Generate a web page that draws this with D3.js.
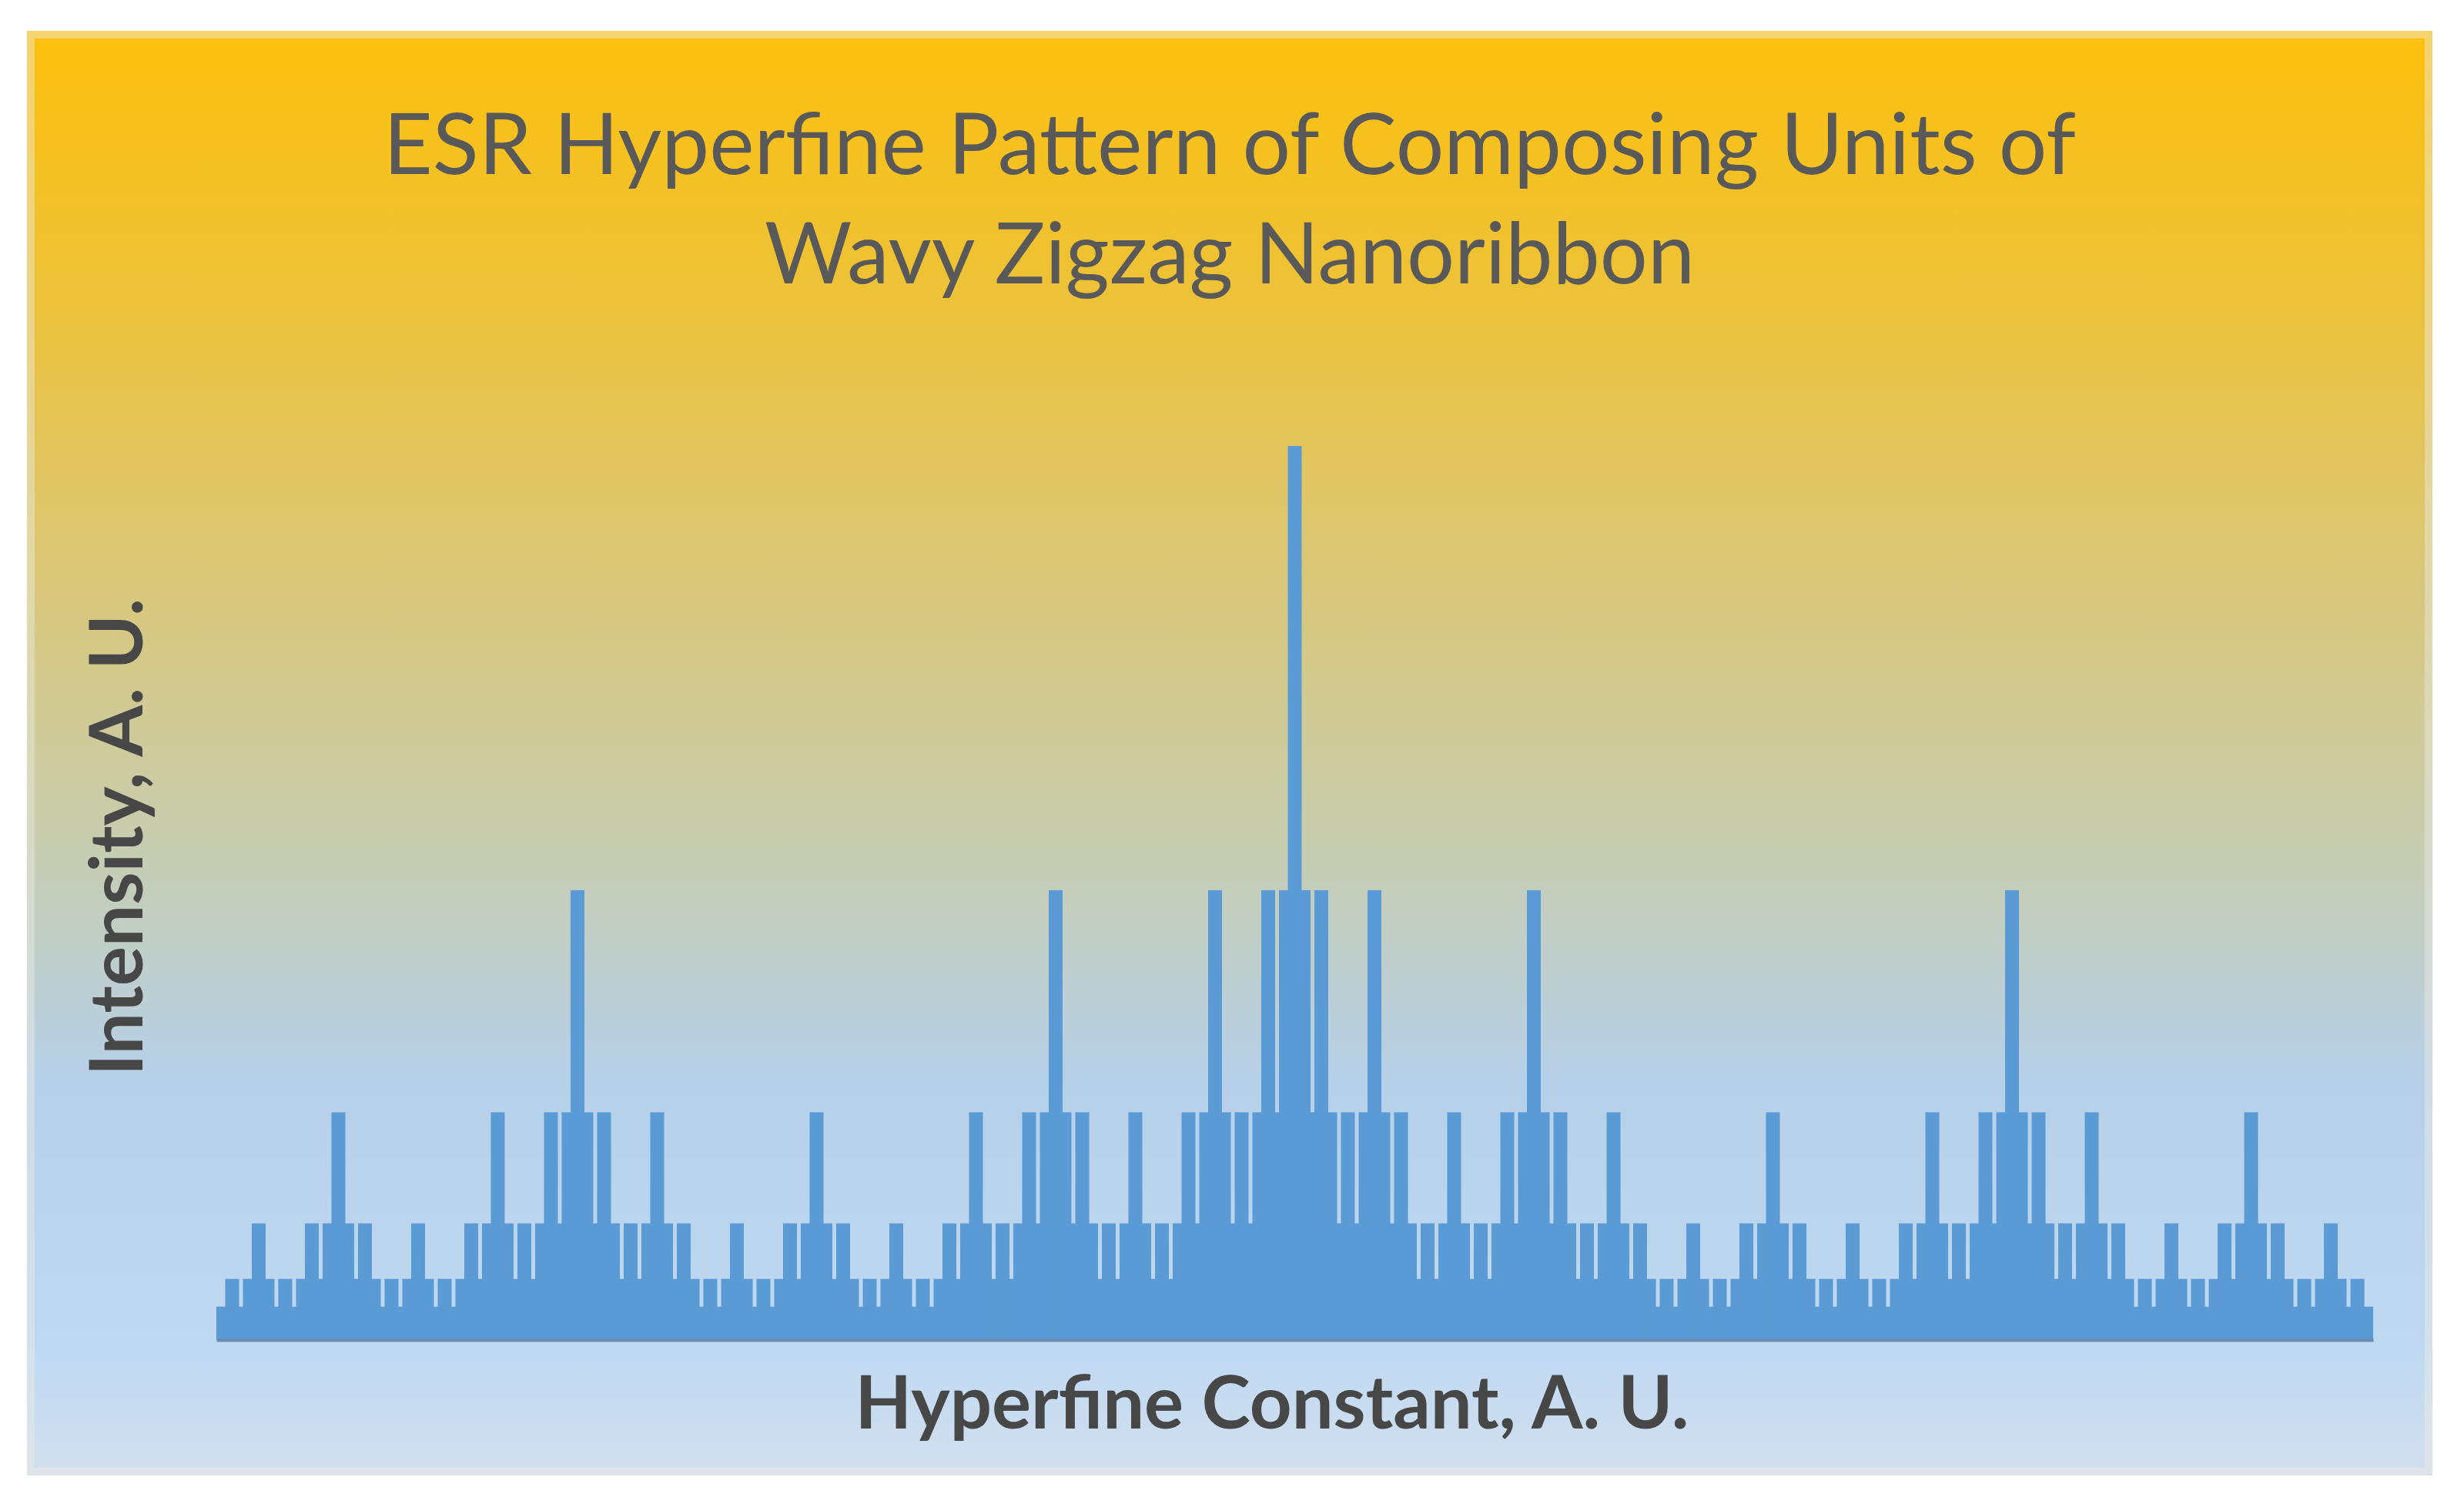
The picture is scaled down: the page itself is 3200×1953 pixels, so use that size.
<!DOCTYPE html>
<html>
<head>
<meta charset="utf-8">
<script src="https://cdn.jsdelivr.net/npm/d3@7"></script>
<style>
body{margin:0;background:#fff}
</style>
</head>
<body>
<div id="chart"></div>
<script>
var titleLines=["ESR Hyperfine Pattern of Composing Units of", "Wavy Zigzag Nanoribbon"]
var xTitle="Hyperfine Constant, A. U."
var yTitle="Intensity, A. U."

// intensity of each hyperfine line, left to right (243 lines)
var intensity=[
    1,2,1,2,4,2,1,2,1, 2,4,2,4,8,4,2,4,2, 1,2,1,2,4,2,1,2,1,
    2,4,2,4,8,4,2,4,2, 4,8,4,8,16,8,4,8,4, 2,4,2,4,8,4,2,4,2,
    1,2,1,2,4,2,1,2,1, 2,4,2,4,8,4,2,4,2, 1,2,1,2,4,2,1,2,1,
    2,4,2,4,8,4,2,4,2, 4,8,4,8,16,8,4,8,4, 2,4,2,4,8,4,2,4,2,
    4,8,4,8,16,8,4,8,4, 8,16,8,16,32,16,8,16,8, 4,8,4,8,16,8,4,8,4,
    2,4,2,4,8,4,2,4,2, 4,8,4,8,16,8,4,8,4, 2,4,2,4,8,4,2,4,2,
    1,2,1,2,4,2,1,2,1, 2,4,2,4,8,4,2,4,2, 1,2,1,2,4,2,1,2,1,
    2,4,2,4,8,4,2,4,2, 4,8,4,8,16,8,4,8,4, 2,4,2,4,8,4,2,4,2,
    1,2,1,2,4,2,1,2,1, 2,4,2,4,8,4,2,4,2, 1,2,1,2,4,2,1,2,1
]

var svgWidth=3200
var svgHeight=1953

var svg=d3.select("#chart")
        .append("svg")
        .attr("width", svgWidth)
        .attr("height", svgHeight)

var grad=svg.append("defs").append("linearGradient")
        .attr("id", "bg")
        .attr("x1", 0).attr("y1", 0)
        .attr("x2", 0).attr("y2", 1)

var stops=[[0, "#fdc00c"], [0.19, "#ecc23a"], [0.35, "#dcc670"], [0.56, "#c8cdaf"],
           [0.73, "#b6d0ea"], [0.91, "#bfd9f3"], [1, "#d2dfed"]]
stops.forEach(s=>{
    grad.append("stop").attr("offset", s[0]).attr("stop-color", s[1])
})

svg.append("rect")
    .attr("x", 35).attr("y", 40)
    .attr("width", 3124).attr("height", 1876)
    .attr("fill", "url(#bg)")

svg.append("rect")
    .attr("x", 40).attr("y", 45)
    .attr("width", 3114).attr("height", 1866)
    .attr("fill", "none")
    .attr("stroke", "rgba(235,235,228,0.45)")
    .attr("stroke-width", 10)

var xScale=d3.scaleLinear()
        .domain([-0.78, intensity.length-1+0.78])
        .range([281, 3082])

var yScale=d3.scaleLinear()
        .domain([-0.2, 35])
        .range([1740, 471])

var barW=18

svg.append("g").selectAll("rect")
    .data(intensity)
    .enter()
    .append("rect")
    .attr("x", (d,i)=>xScale(i)-barW/2)
    .attr("y", d=>yScale(d))
    .attr("width", barW)
    .attr("height", d=>yScale(-0.2)-yScale(d))
    .attr("fill", "#5b9bd5")

var xAxis=d3.axisBottom(xScale).tickValues([]).tickSizeOuter(0)

svg.append("g")
    .attr("transform", `translate(0, ${yScale(-0.2)})`)
    .call(xAxis)
    .select(".domain")
    .attr("stroke", "#6b8cae")
    .attr("stroke-width", 4)

// titles
var titleY=[226, 368]
var titleW=[2198, 1208]
svg.selectAll("text.title")
    .data(titleLines)
    .enter()
    .append("text")
    .attr("class", "title")
    .attr("x", 1597)
    .attr("y", (d,i)=>titleY[i])
    .attr("text-anchor", "middle")
    .attr("textLength", (d,i)=>titleW[i])
    .attr("lengthAdjust", "spacingAndGlyphs")
    .attr("font-family", "Lato, 'Open Sans', sans-serif")
    .attr("font-size", 110)
    .attr("fill", "#595959")
    .text(d=>d)

svg.append("text")
    .attr("x", 1652)
    .attr("y", 1855)
    .attr("text-anchor", "middle")
    .attr("textLength", 1083)
    .attr("lengthAdjust", "spacingAndGlyphs")
    .attr("font-family", "Lato, 'Open Sans', sans-serif")
    .attr("font-weight", "bold")
    .attr("font-size", 95)
    .attr("fill", "#474747")
    .text(xTitle)

svg.append("text")
    .attr("transform", "translate(185, 1087) rotate(-90)")
    .attr("text-anchor", "middle")
    .attr("textLength", 620)
    .attr("lengthAdjust", "spacingAndGlyphs")
    .attr("font-family", "Lato, 'Open Sans', sans-serif")
    .attr("font-weight", "bold")
    .attr("font-size", 95)
    .attr("fill", "#474747")
    .text(yTitle)
</script>
</body>
</html>
